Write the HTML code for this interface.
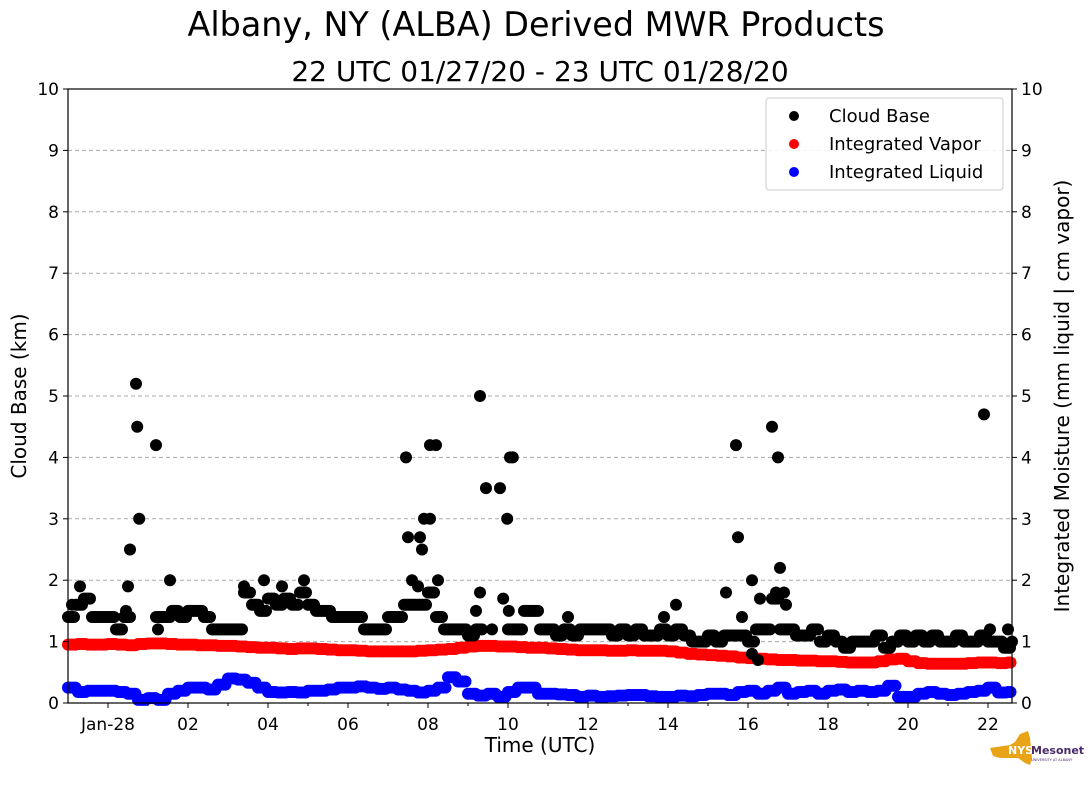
<!DOCTYPE html>
<html><head><meta charset="utf-8"><style>
body{margin:0;background:#fff;}
svg text{font-family:"DejaVu Sans","Liberation Sans",sans-serif;}
</style></head><body>
<svg id="chart" width="1089" height="804" xmlns="http://www.w3.org/2000/svg">
<text x="536" y="36" font-size="33.4" text-anchor="middle">Albany, NY (ALBA) Derived MWR Products</text>
<text x="540" y="81" font-size="28" text-anchor="middle">22 UTC 01/27/20 - 23 UTC 01/28/20</text>
<g id="grid"></g>
<g id="marks"></g>
<rect x="68" y="89" width="944" height="614" fill="none" stroke="#000" stroke-width="1.2"/>
<g id="axes"></g>
<text x="540" y="752" font-size="20" text-anchor="middle">Time (UTC)</text>
<text transform="translate(26,396) rotate(-90)" font-size="20" text-anchor="middle">Cloud Base (km)</text>
<text transform="translate(1069,396) rotate(-90)" font-size="20" text-anchor="middle">Integrated Moisture (mm liquid | cm vapor)</text>
<g>
<rect x="766" y="98" width="237" height="92" rx="3" fill="#fff" fill-opacity="0.85" stroke="#ccc"/>
<circle cx="794" cy="116" r="5" fill="#000"/><text x="829" y="122" font-size="18">Cloud Base</text>
<circle cx="794" cy="144" r="5" fill="red"/><text x="829" y="150" font-size="18">Integrated Vapor</text>
<circle cx="794" cy="172" r="5" fill="blue"/><text x="829" y="178" font-size="18">Integrated Liquid</text>
</g>
<g>
<path d="M990 748 L1010 745 L1015 742 L1020 734 L1028 731 L1030 738 L1032 758 L1030 765 L1025 763 L1018 758 L1000 758 L993 756 Z" fill="#e8a317"/>
<text x="1008" y="754" font-size="11" font-weight="bold" fill="#fff">NYS</text>
<text x="1031" y="754" font-size="11" font-weight="bold" fill="#4b2a6b">Mesonet</text>
<text x="1031" y="761" font-size="3.5" fill="#4b2a6b">UNIVERSITY AT ALBANY</text>
</g>
</svg>
<script>
const cloudBase = [1.4,1.6,1.7,1.4,1.4,1.4,1.2,1.4,null,null,null,1.4,1.4,1.5,1.4,1.5,1.5,1.4,1.2,1.2,1.2,1.2,1.8,1.6,1.5,1.7,1.6,1.7,1.6,1.8,1.6,1.5,1.5,1.4,1.4,1.4,1.4,1.2,1.2,1.2,1.4,1.4,1.6,1.6,1.6,1.8,1.4,1.2,1.2,1.2,1.1,1.2,null,null,null,1.2,1.2,1.5,1.5,1.2,1.2,1.1,1.2,1.1,1.2,1.2,1.2,1.2,1.1,1.2,1.1,1.2,1.1,1.1,1.2,1.1,1.2,1.1,1.0,1.0,1.1,1.0,1.1,1.1,1.1,1.0,1.2,1.2,1.7,1.2,1.2,1.1,1.1,1.2,1.0,1.1,1.0,0.9,1.0,1.0,1.0,1.1,0.9,1.0,1.1,1.0,1.1,1.0,1.1,1.0,1.0,1.1,1.0,1.0,1.1,1.0,1.0,0.9,1.0];
const cloudOutlierHours = [-0.9,-0.7,0.3,0.45,0.5,0.55,0.7,0.73,0.78,1.2,1.25,1.55,3.4,3.9,4.35,4.9,7.45,7.5,7.6,7.75,7.8,7.9,7.85,8.05,8.05,8.2,8.25,9.2,9.3,9.3,9.45,9.8,9.88,9.98,10.02,10.05,10.12,11.5,13.9,14.2,15.45,15.7,15.75,15.85,16.1,16.3,16.6,16.7,16.75,16.8,16.9,16.95,21.9,22.05,22.5,16.1,16.25,9.1,9.6];
const cloudOutlierValues = [1.6,1.9,1.2,1.5,1.9,2.5,5.2,4.5,3.0,4.2,1.2,2.0,1.9,2.0,1.9,2.0,4.0,2.7,2.0,1.9,2.7,3.0,2.5,3.0,4.2,4.2,2.0,1.5,1.8,5.0,3.5,3.5,1.7,3.0,1.5,4.0,4.0,1.4,1.4,1.6,1.8,4.2,2.7,1.4,2.0,1.7,4.5,1.8,4.0,2.2,1.8,1.6,4.7,1.2,1.2,0.8,0.7,1.1,1.2];
const vapor = [.95,.96,.95,.95,.96,.95,.94,.96,.97, .97,.96,.95,.95,.94,.94,.93,.93, .92,.91,.9,.9,.89,.88,.89,.89, .88,.87,.86,.86,.85,.84,.84,.84, .84,.84,.85,.86,.87,.88,.9,.92, .93,.93,.92,.92,.91,.9,.9,.89, .88,.87,.86,.86,.86,.85,.85,.86, .85,.85,.85,.84,.82,.8,.79,.78, .77,.76,.74,.73,.72,.71,.7,.7, .69,.69,.68,.68,.67,.66,.66,.66, .68,.71,.72,.68,.65,.64,.64,.64, .64,.65,.66,.66,.65,.66,.67];
const liquid = [.25,.18,.2,.2,.2,.18,.15,.05,.08, .05,.15,.2,.25,.25,.22,.3,.4, .38,.33,.25,.18,.17,.18,.17,.2, .2,.22,.25,.25,.27,.25,.23,.25, .22,.2,.17,.2,.25,.42,.35,.15, .12,.15,.1,.18,.25,.25,.15,.15, .14,.13,.1,.12,.1,.11,.12,.13, .13,.11,.1,.1,.12,.11,.13,.15, .15,.13,.18,.2,.15,.2,.25,.15, .18,.2,.15,.2,.22,.18,.2,.18, .2,.28,.1,.1,.15,.18,.15,.13, .15,.18,.2,.25,.17,.18,.22];
const yTicks = [0,1,2,3,4,5,6,7,8,9,10];
const xTickHours = [0,2,4,6,8,10,12,14,16,18,20,22];
const xTickLabels = ["Jan-28","02","04","06","08","10","12","14","16","18","20","22"];
const xMinorHours = [1,3,5,7,9,11,13,15,17,19,21];

const NS="http://www.w3.org/2000/svg";
const X0=68,X1=1012,Y0=703,Y1=89,HMIN=-1,HMAX=22.6;
function xs(h){return X0+(h-HMIN)/(HMAX-HMIN)*(X1-X0);}
function ys(v){return Y0-v/10*(Y0-Y1);}
function mk(tag,attrs,parent){const e=document.createElementNS(NS,tag);for(const k in attrs)e.setAttribute(k,attrs[k]);parent.appendChild(e);return e;}
const grid=document.getElementById('grid'),marks=document.getElementById('marks'),axes=document.getElementById('axes');
yTicks.forEach(v=>{
  if(v>0&&v<10){const l=mk('line',{x1:X0,x2:X1,y1:ys(v),y2:ys(v),stroke:'#aaa','stroke-dasharray':'4,3','stroke-width':1},grid);
  
  }
  mk('line',{x1:X0-5,x2:X0,y1:ys(v),y2:ys(v),stroke:'#000'},axes);
  mk('line',{x1:X1,x2:X1+5,y1:ys(v),y2:ys(v),stroke:'#000'},axes);
  const t1=mk('text',{x:X0-9,y:ys(v)+6,'font-size':17,'text-anchor':'end'},axes);t1.textContent=v;
  
  
  const t2=mk('text',{x:X1+9,y:ys(v)+6,'font-size':17},axes);t2.textContent=v;
  
  
});
xTickHours.forEach((h,i)=>{
  mk('line',{x1:xs(h),x2:xs(h),y1:Y0,y2:Y0+5,stroke:'#000'},axes);
  const t=mk('text',{x:xs(h),y:Y0+27,'font-size':17,'text-anchor':'middle'},axes);t.textContent=xTickLabels[i];
  
  
});
xMinorHours.forEach(h=>{mk('line',{x1:xs(h),x2:xs(h),y1:Y0,y2:Y0+3,stroke:'#000'},axes);});
function dot(h,v,c){return mk('circle',{cx:xs(h),cy:ys(v),r:6,fill:c},marks);}
vapor.forEach((v,i)=>{const h=-1+0.25*i;[0,0.0625,0.125,0.1875].forEach(d=>{if(h+d>HMAX)return;const e=dot(h+d,v,'red');
  
  });});
liquid.forEach((v,i)=>{const h=-1+0.25*i;[0,0.0625,0.125,0.1875].forEach(d=>{if(h+d>HMAX)return;const e=dot(h+d,v,'blue');
  
  });});
cloudBase.forEach((v,i)=>{if(v===null)return;const h=-1+0.2*i;
  [0,0.05,0.1,0.15].forEach(d=>{if(h+d>HMAX)return;const e=dot(h+d,v,'#000');
  
  });});
cloudOutlierHours.forEach((h,i)=>{const e=dot(h,cloudOutlierValues[i],'#000');
  
  });
</script>
</body></html>
